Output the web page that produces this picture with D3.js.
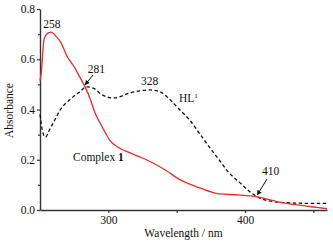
<!DOCTYPE html>
<html>
<head>
<meta charset="utf-8">
<script src="https://cdn.jsdelivr.net/npm/d3@7"></script>
<style>
  body { margin: 0; background: #fff; }
  text { font-family: "Liberation Serif", "Times New Roman", serif; fill: #111; }
</style>
</head>
<body>
<script>
// wavelength (nm) / absorbance
var complexWl = [250, 251, 253, 256, 258, 262, 265, 270, 275, 279, 283, 287, 290, 294, 298, 301, 308, 316, 325, 333, 342, 352, 366, 381, 395, 409, 420, 428, 437, 450, 460];
var complexAbs = [0.515, 0.55, 0.68, 0.705, 0.708, 0.69, 0.669, 0.61, 0.57, 0.53, 0.49, 0.438, 0.39, 0.346, 0.306, 0.278, 0.247, 0.227, 0.207, 0.186, 0.158, 0.122, 0.09, 0.064, 0.06, 0.052, 0.038, 0.028, 0.021, 0.012, 0.005];

var ligandWl = [250, 252, 254, 257, 261, 265, 272, 279, 284, 289, 295, 304, 316, 323, 330, 338, 345, 352, 360, 366, 374, 381, 388, 396, 403, 409, 418, 430, 440, 460];
var ligandAbs = [0.38, 0.31, 0.29, 0.32, 0.36, 0.40, 0.44, 0.47, 0.49, 0.485, 0.46, 0.446, 0.466, 0.474, 0.478, 0.47, 0.44, 0.40, 0.355, 0.31, 0.25, 0.2, 0.15, 0.11, 0.075, 0.052, 0.036, 0.029, 0.027, 0.026];

var xTicks = [300, 400];
var yTicks = [0.0, 0.2, 0.4, 0.6, 0.8];

var peakLabels = [
  { text: "258", wl: 258, abs: 0.708 },
  { text: "281", wl: 281, abs: 0.49 },
  { text: "328", wl: 328, abs: 0.475 },
  { text: "410", wl: 410, abs: 0.045 }
];

var w = 333, h = 247;
var margin = { top: 9, right: 6, bottom: 37, left: 40 };

var svg = d3.select("body").append("svg")
  .attr("width", w)
  .attr("height", h);

var x = d3.scaleLinear().domain([250, 460]).range([margin.left, w - margin.right]);
var y = d3.scaleLinear().domain([0, 0.8]).range([h - margin.bottom, margin.top]);

// axes
svg.append("g")
  .attr("transform", "translate(0," + y(0) + ")")
  .call(d3.axisBottom(x).tickValues(xTicks).tickSize(3).tickSizeOuter(0).tickPadding(3).tickFormat(d3.format("d")));
svg.append("g")
  .attr("transform", "translate(0," + y(0) + ")")
  .call(d3.axisBottom(x).tickValues([350, 450]).tickSize(3).tickSizeOuter(0).tickFormat(""))
  .select(".domain").remove();

svg.append("g")
  .attr("transform", "translate(" + x(250) + ",0)")
  .call(d3.axisLeft(y).tickValues(yTicks).tickSize(3).tickSizeOuter(0).tickPadding(2).tickFormat(d3.format(".1f")));
svg.append("g")
  .attr("transform", "translate(" + x(250) + ",0)")
  .call(d3.axisLeft(y).tickValues([0.1, 0.3, 0.5, 0.7]).tickSize(2).tickSizeOuter(0).tickFormat(""))
  .select(".domain").remove();

svg.selectAll(".domain").attr("stroke", "#333").attr("stroke-width", 1.4);
svg.selectAll(".tick line").attr("stroke", "#333").attr("stroke-width", 1.2);
svg.selectAll(".tick text")
  .style("font-family", "'Liberation Serif', serif")
  .style("font-size", "11.5px")
  .attr("fill", "#111");

// curves
var line = d3.line()
  .x(function (d) { return x(d[0]); })
  .y(function (d) { return y(d[1]); })
  .curve(d3.curveMonotoneX);

svg.append("path")
  .datum(d3.zip(ligandWl, ligandAbs))
  .attr("fill", "none")
  .attr("stroke", "#111")
  .attr("stroke-width", 1.3)
  .attr("stroke-dasharray", "3.5,2.5")
  .attr("d", line);

svg.append("path")
  .datum(d3.zip(complexWl, complexAbs))
  .attr("fill", "none")
  .attr("stroke", "#ee2a2a")
  .attr("stroke-width", 1.3)
  .attr("d", line);

// peak labels
var lbl = [
  { dx: 1, dy: -4 },
  { dx: 14, dy: -14 },
  { dx: 3, dy: -6 },
  { dx: 12, dy: -24 }
];
svg.selectAll(".peak")
  .data(peakLabels)
  .enter()
  .append("text")
  .attr("class", "peak")
  .attr("x", function (d, i) { return x(d.wl) + lbl[i].dx; })
  .attr("y", function (d, i) { return y(d.abs) + lbl[i].dy; })
  .attr("text-anchor", "middle")
  .style("font-size", "11.5px")
  .text(function (d) { return d.text; });

// arrows for 281 and 410
svg.append("defs").append("marker")
  .attr("id", "arr")
  .attr("viewBox", "0 0 10 10")
  .attr("refX", 9).attr("refY", 5)
  .attr("markerWidth", 5).attr("markerHeight", 5)
  .attr("orient", "auto")
  .append("path").attr("d", "M0,0L10,5L0,10z").attr("fill", "#111");

var arrows = [
  { wl: 283, abs: 0.49, fx: 93, fy: 75 },
  { wl: 409, abs: 0.052, fx: 267, fy: 179 }
];
svg.selectAll(".arrow")
  .data(arrows)
  .enter()
  .append("line")
  .attr("x1", function (d) { return d.fx; })
  .attr("y1", function (d) { return d.fy; })
  .attr("x2", function (d) { return x(d.wl); })
  .attr("y2", function (d) { return y(d.abs) - 2; })
  .attr("stroke", "#111")
  .attr("stroke-width", 1)
  .attr("marker-end", "url(#arr)");

// series labels
var hl = svg.append("text")
  .attr("x", 179).attr("y", 102)
  .style("font-size", "11.5px");
hl.append("tspan").text("HL");
hl.append("tspan").attr("dy", -4).style("font-size", "7px").text("1");

var cx = svg.append("text")
  .attr("x", 73).attr("y", 161)
  .style("font-size", "11.5px");
cx.append("tspan").text("Complex ");
cx.append("tspan").style("font-weight", "bold").text("1");

// axis titles
svg.append("text")
  .attr("x", (x(250) + x(460)) / 2)
  .attr("y", 237)
  .attr("text-anchor", "middle")
  .style("font-size", "11.5px")
  .text("Wavelength / nm");

svg.append("text")
  .attr("transform", "translate(13," + (y(0.4) + 1) + ") rotate(-90)")
  .attr("text-anchor", "middle")
  .style("font-size", "11.5px")
  .text("Absorbance");
</script>
</body>
</html>
